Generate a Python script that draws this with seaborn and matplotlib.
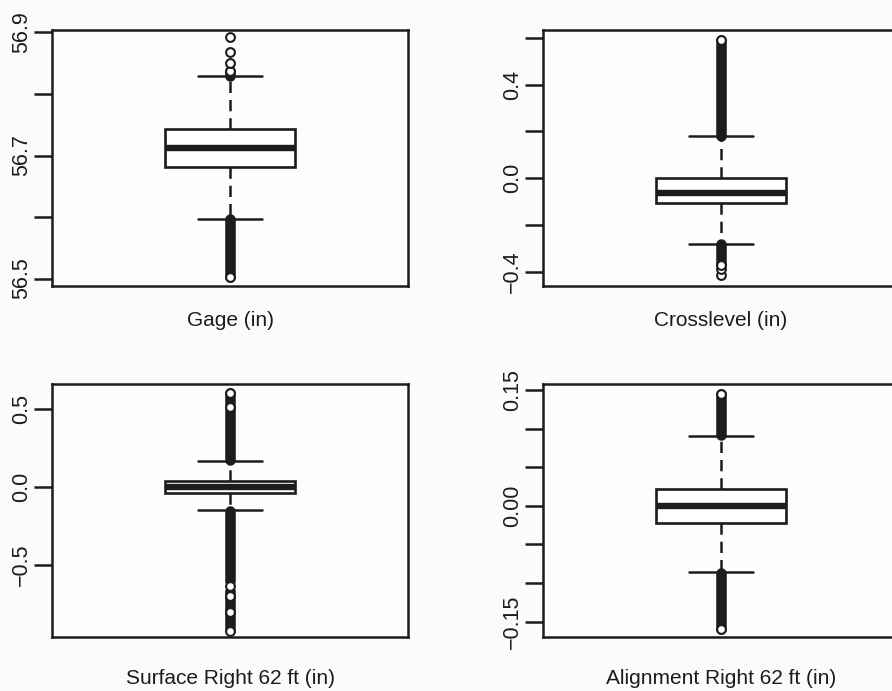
import numpy as np
import pandas as pd
import matplotlib
matplotlib.use("Agg")
import matplotlib.pyplot as plt
import seaborn as sns

# ---- data ----
labels = ["Gage (in)", "Crosslevel (in)", "Surface Right 62 ft (in)", "Alignment Right 62 ft (in)"]

# five-number summaries: lower whisker, Q1, median, Q3, upper whisker
gage_stats = [56.597, 56.681, 56.713, 56.743, 56.829]
cross_stats = [-0.283, -0.107, -0.063, 0.0, 0.181]
surf_stats = [-0.148, -0.036, 0.0, 0.040, 0.168]
align_stats = [-0.086, -0.022, 0.0, 0.022, 0.091]

# dense outlier runs (low, high)
gage_runs = [(56.503, 56.597), (56.829, 56.838)]
cross_runs = [(-0.365, -0.283), (0.181, 0.590)]
surf_runs = [(-0.600, -0.150), (-0.915, -0.665), (0.170, 0.602)]
align_runs = [(-0.160, -0.087), (0.092, 0.145)]

# individually visible outliers
gage_out = [56.503, 56.838, 56.851, 56.869, 56.892]
cross_out = [-0.414, -0.390, -0.372, 0.590]
surf_out = [-0.919, -0.798, -0.696, -0.632, 0.511, 0.602]
align_out = [-0.160, 0.145]

# axis settings
ylims = [(56.488, 56.904), (-0.461, 0.634), (-0.959, 0.659), (-0.170, 0.158)]
ticks = [[56.5, 56.6, 56.7, 56.8, 56.9],
         [-0.4, -0.2, 0.0, 0.2, 0.4, 0.6],
         [-0.5, 0.0, 0.5],
         [-0.15, -0.10, -0.05, 0.0, 0.05, 0.10, 0.15]]
tick_labels = [["56.5", "", "56.7", "", "56.9"],
               ["\u22120.4", "", "0.0", "", "0.4", ""],
               ["\u22120.5", "0.0", "0.5"],
               ["\u22120.15", "", "", "0.00", "", "", "0.15"]]

stats = [gage_stats, cross_stats, surf_stats, align_stats]
runs = [gage_runs, cross_runs, surf_runs, align_runs]
outs = [gage_out, cross_out, surf_out, align_out]

sns.set_style("white")
plt.rcParams["font.family"] = ["Liberation Sans", "DejaVu Sans"]

INK = "#1c1c1c"
W, H = 892, 691
fig = plt.figure(figsize=(W / 100, H / 100), dpi=100)
fig.patch.set_facecolor("#fbfbfb")

# axes boxes in pixels: left, top, right, bottom
boxes = [(52, 30, 408, 286), (543, 30, 899, 286), (52, 384, 408, 637), (543, 384, 899, 637)]
label_y = [321, 321, 678, 678]

for i in range(4):
    l, t, r, b = boxes[i]
    ax = fig.add_axes([l / W, 1 - b / H, (r - l) / W, (b - t) / H])
    ax.set_facecolor("#fdfdfd")
    df = pd.DataFrame({"v": stats[i]})
    sns.boxplot(data=df, y="v", ax=ax, whis=(0, 100), width=0.365,
                color="white", linecolor=INK, linewidth=1.9,
                showfliers=False,
                medianprops={"linewidth": 4.6, "color": INK, "solid_capstyle": "butt"},
                whiskerprops={"linestyle": (0, (4.5, 2.8)), "linewidth": 1.8},
                capprops={"linewidth": 1.8},
                boxprops={"linewidth": 1.9})
    for lo, hi in runs[i]:
        ax.plot([0, 0], [lo, hi], color=INK, linewidth=7.6,
                solid_capstyle="round", zorder=4)
    sns.scatterplot(x=[0] * len(outs[i]), y=outs[i], ax=ax, marker="o", s=40,
                    facecolor="white", edgecolor=INK, linewidth=1.5,
                    legend=False, zorder=5)
    ax.set_xlim(-0.5, 0.5)
    ax.set_ylim(*ylims[i])
    ax.set_xticks([])
    ax.set_xlabel("")
    ax.set_ylabel("")
    ax.set_yticks(ticks[i])
    ax.set_yticklabels(tick_labels[i], rotation=90, va="center", fontsize=15.5)
    ax.tick_params(axis="y", direction="out", length=13, width=1.8, pad=1.5,
                   left=True, colors=INK)
    for sp in ax.spines.values():
        sp.set_visible(True)
        sp.set_color(INK)
        sp.set_linewidth(1.8)
    cx = (l + r) / 2
    fig.text(cx / W, 1 - label_y[i] / H, labels[i], ha="center", va="center",
             fontsize=15, color=INK)

fig.savefig("out.png", dpi=100, facecolor=fig.get_facecolor())
